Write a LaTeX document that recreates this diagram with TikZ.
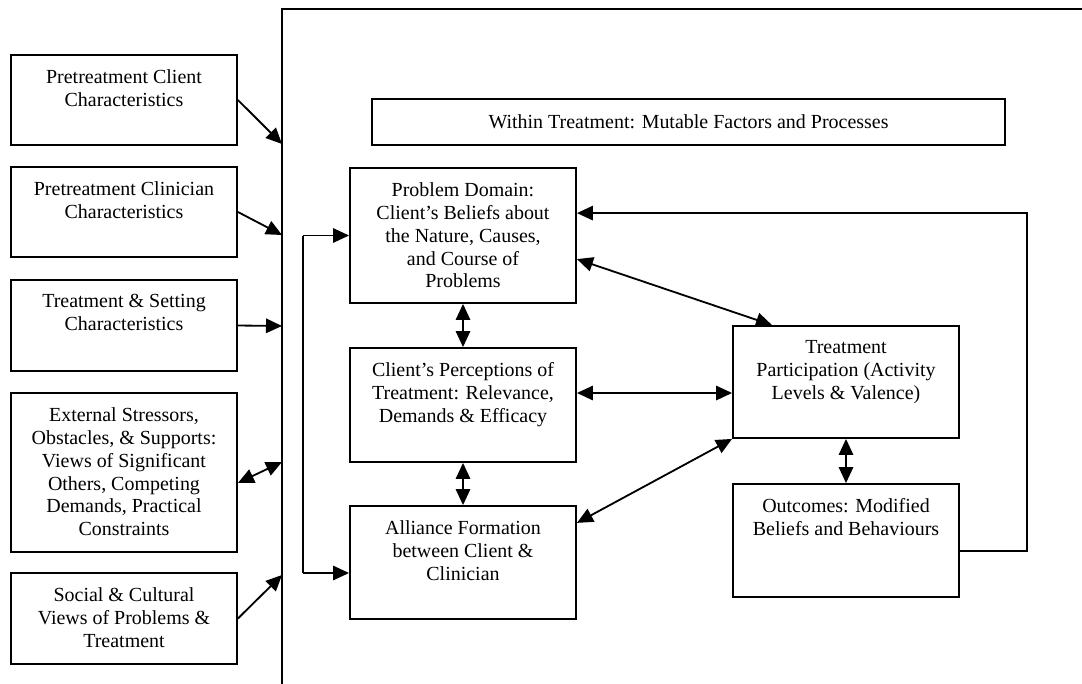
\documentclass[tikz,border=0pt]{standalone}
\usepackage{fontspec}
\setmainfont{Liberation Serif}
\usetikzlibrary{arrows.meta}

\begin{document}
\begin{tikzpicture}[x=0.025cm,y=-0.025cm,line width=1.3pt,
  font=\fontsize{14.2}{16.3}\selectfont,
  >={Triangle[length=0.4cm,width=0.36cm]},
  box/.style={draw,minimum width=5.65cm,inner sep=0pt},
  txt/.style={anchor=north,align=center,inner sep=0pt,yshift=-0.36cm}]
\useasboundingbox (0,0) rectangle (1082,683);

\node[box,minimum height=2.25cm,label={[txt]north:{Pretreatment Client\\Characteristics}}] (pcl) at (124,100) {};
\node[box,minimum height=2.25cm,label={[txt]north:{Pretreatment Clinician\\Characteristics}}] (pcn) at (124,212) {};
\node[box,minimum height=2.275cm,label={[txt]north:{Treatment \& Setting\\Characteristics}}] (tsc) at (124,325.5) {};
\node[box,minimum height=3.975cm,label={[txt]north:{External Stressors,\\Obstacles, \& Supports:\\Views of Significant\\Others, Competing\\Demands, Practical\\Constraints}}] (ext) at (124,472.5) {};
\node[box,minimum height=2.275cm,label={[txt]north:{Social \& Cultural\\Views of Problems \&\\Treatment}}] (scv) at (124,618.5) {};

\coordinate (ftop) at (282,9);
\draw (282,690) -- (ftop) -- (1090,9);
\coordinate (f1) at (282,144);
\coordinate (f2) at (282,235);
\coordinate (f3) at (282,326);
\coordinate (f4) at (282,462);
\coordinate (f5) at (282,575);

\draw[->] (pcl.east) -- (f1);
\draw[->] (pcn.east) -- (f2);
\draw[->] (tsc.east) -- (f3);
\draw[<->] ([yshift=-0.26cm]ext.east) -- (f4);
\draw[->] (scv.east) -- (f5);

\node[draw,minimum width=15.825cm,minimum height=1.15cm] (wt) at (688.5,122) {Within Treatment: Mutable Factors and Processes};

\node[box,minimum height=3.375cm,label={[txt]north:{Problem Domain:\\Client's Beliefs about\\the Nature, Causes,\\and Course of\\Problems}}] (prob) at (463,235.5) {};
\node[box,minimum height=2.85cm,label={[txt]north:{Client's Perceptions of\\Treatment: Relevance,\\Demands \& Efficacy}}] (perc) at (463,405) {};
\node[box,minimum height=2.825cm,label={[txt]north:{Alliance Formation\\between Client \&\\Clinician}}] (ally) at (463,562.5) {};
\node[box,minimum height=2.8cm,label={[txt]north:{Treatment\\Participation (Activity\\Levels \& Valence)}}] (tp) at (846,382) {};
\node[box,minimum height=2.825cm,label={[txt]north:{Outcomes: Modified\\Beliefs and Behaviours}}] (out) at (846,540.5) {};

\coordinate (b1) at (303,235.5);
\coordinate (b2) at (303,573);
\draw (b1) -- (b2);
\draw[->] (b1) -- (prob.west);
\draw[->] (b2) -- (b2 -| ally.west);

\draw[<->] (prob.south) -- (perc.north);
\draw[<->] (perc.south) -- (ally.north);
\draw[<->] (tp.south) -- (out.north);
\draw[<->] ([yshift=-0.59cm]prob.east) -- ([xshift=-1.85cm]tp.north);
\draw[<->] ([yshift=0.3cm]perc.east) -- ([yshift=-0.275cm]tp.west);
\draw[<->] ([yshift=0.99cm]ally.east) -- (tp.south west);

\coordinate (fb) at (1027,380);
\draw[->] ([yshift=-0.26cm]out.east) -| (fb) |- ([yshift=0.56cm]prob.east);
\end{tikzpicture}
\end{document}
